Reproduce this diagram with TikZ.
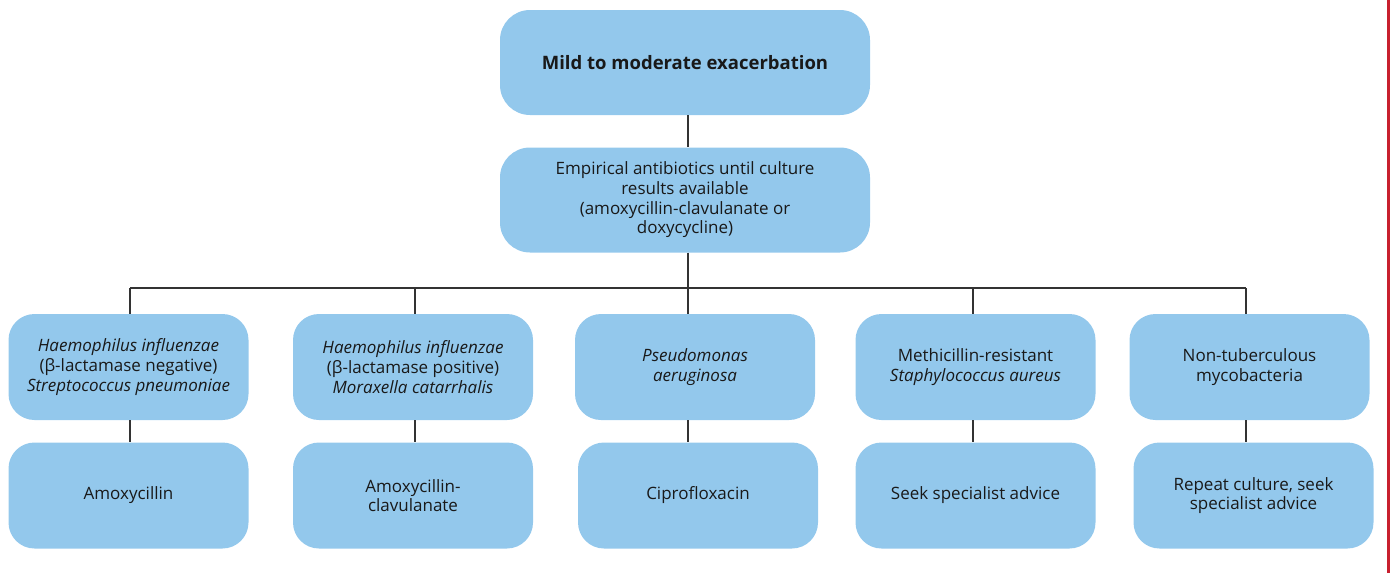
\documentclass[tikz,border=0pt]{standalone}
\usepackage{fontspec}
\setmainfont{Open Sans}
\definecolor{boxblue}{HTML}{93C8EC}
\definecolor{linegray}{HTML}{333333}
\definecolor{edgered}{HTML}{C8202F}
\tikzset{
  box/.style={fill=boxblue, rounded corners=26pt, minimum width=240pt, minimum height=106pt, align=center, text=black!90, font=\fontsize{17}{19.7}\selectfont},
  bigbox/.style={box, minimum width=370pt, minimum height=105pt, rounded corners=30pt},
  link/.style={draw=linegray, line width=1.3pt}
}
\begin{document}
\begin{tikzpicture}[x=1pt,y=-1pt]
        \useasboundingbox (0,0) rectangle (1390,573);
        \fill[edgered] (1387,0) rectangle (1390,573);
        \node[bigbox, font=\fontsize{18.5}{22}\selectfont\bfseries] (top) at (685,62.5) {Mild to moderate exacerbation};
        \node[bigbox] (emp) at (685,200) {Empirical antibiotics until culture\\results available\\(amoxycillin-clavulanate or\\doxycycline)};
        \node[box] (r1) at (128.5,367) {\itshape Haemophilus influenzae\\(β-lactamase negative)\\\itshape Streptococcus pneumoniae};
        \node[box] (r2) at (413,367) {\itshape Haemophilus influenzae\\(β-lactamase positive)\\\itshape Moraxella catarrhalis};
        \node[box] (r3) at (695,367) {\itshape Pseudomonas\\\itshape aeruginosa};
        \node[box] (r4) at (975.5,367) {Methicillin-resistant\\\itshape Staphylococcus aureus};
        \node[box] (r5) at (1249.5,367) {Non-tuberculous\\mycobacteria};
        \node[box] (s1) at (128.5,495.5) {Amoxycillin};
        \node[box] (s2) at (413,495.5) {Amoxycillin-\\clavulanate};
        \node[box] (s3) at (698,495.5) {Ciprofloxacin};
        \node[box] (s4) at (975.5,495.5) {Seek specialist advice};
        \node[box] (s5) at (1253.5,495.5) {Repeat culture, seek\\specialist advice};
        \coordinate (b1) at (130,288);
        \coordinate (b2) at (415,288);
        \coordinate (b3) at (688,288);
        \coordinate (b4) at (973,288);
        \coordinate (b5) at (1246,288);
        \draw[link] (top.south -| b3) -- (emp.north -| b3);
        \draw[link] (emp.south -| b3) -- (b3);
        \draw[link] (b1) -- (b5);
        \foreach \i in {1,...,5} {
          \draw[link] (b\i) -- (b\i |- r\i.north);
          \draw[link] (b\i |- r\i.south) -- (b\i |- s\i.north);
        }
\end{tikzpicture}
\end{document}
